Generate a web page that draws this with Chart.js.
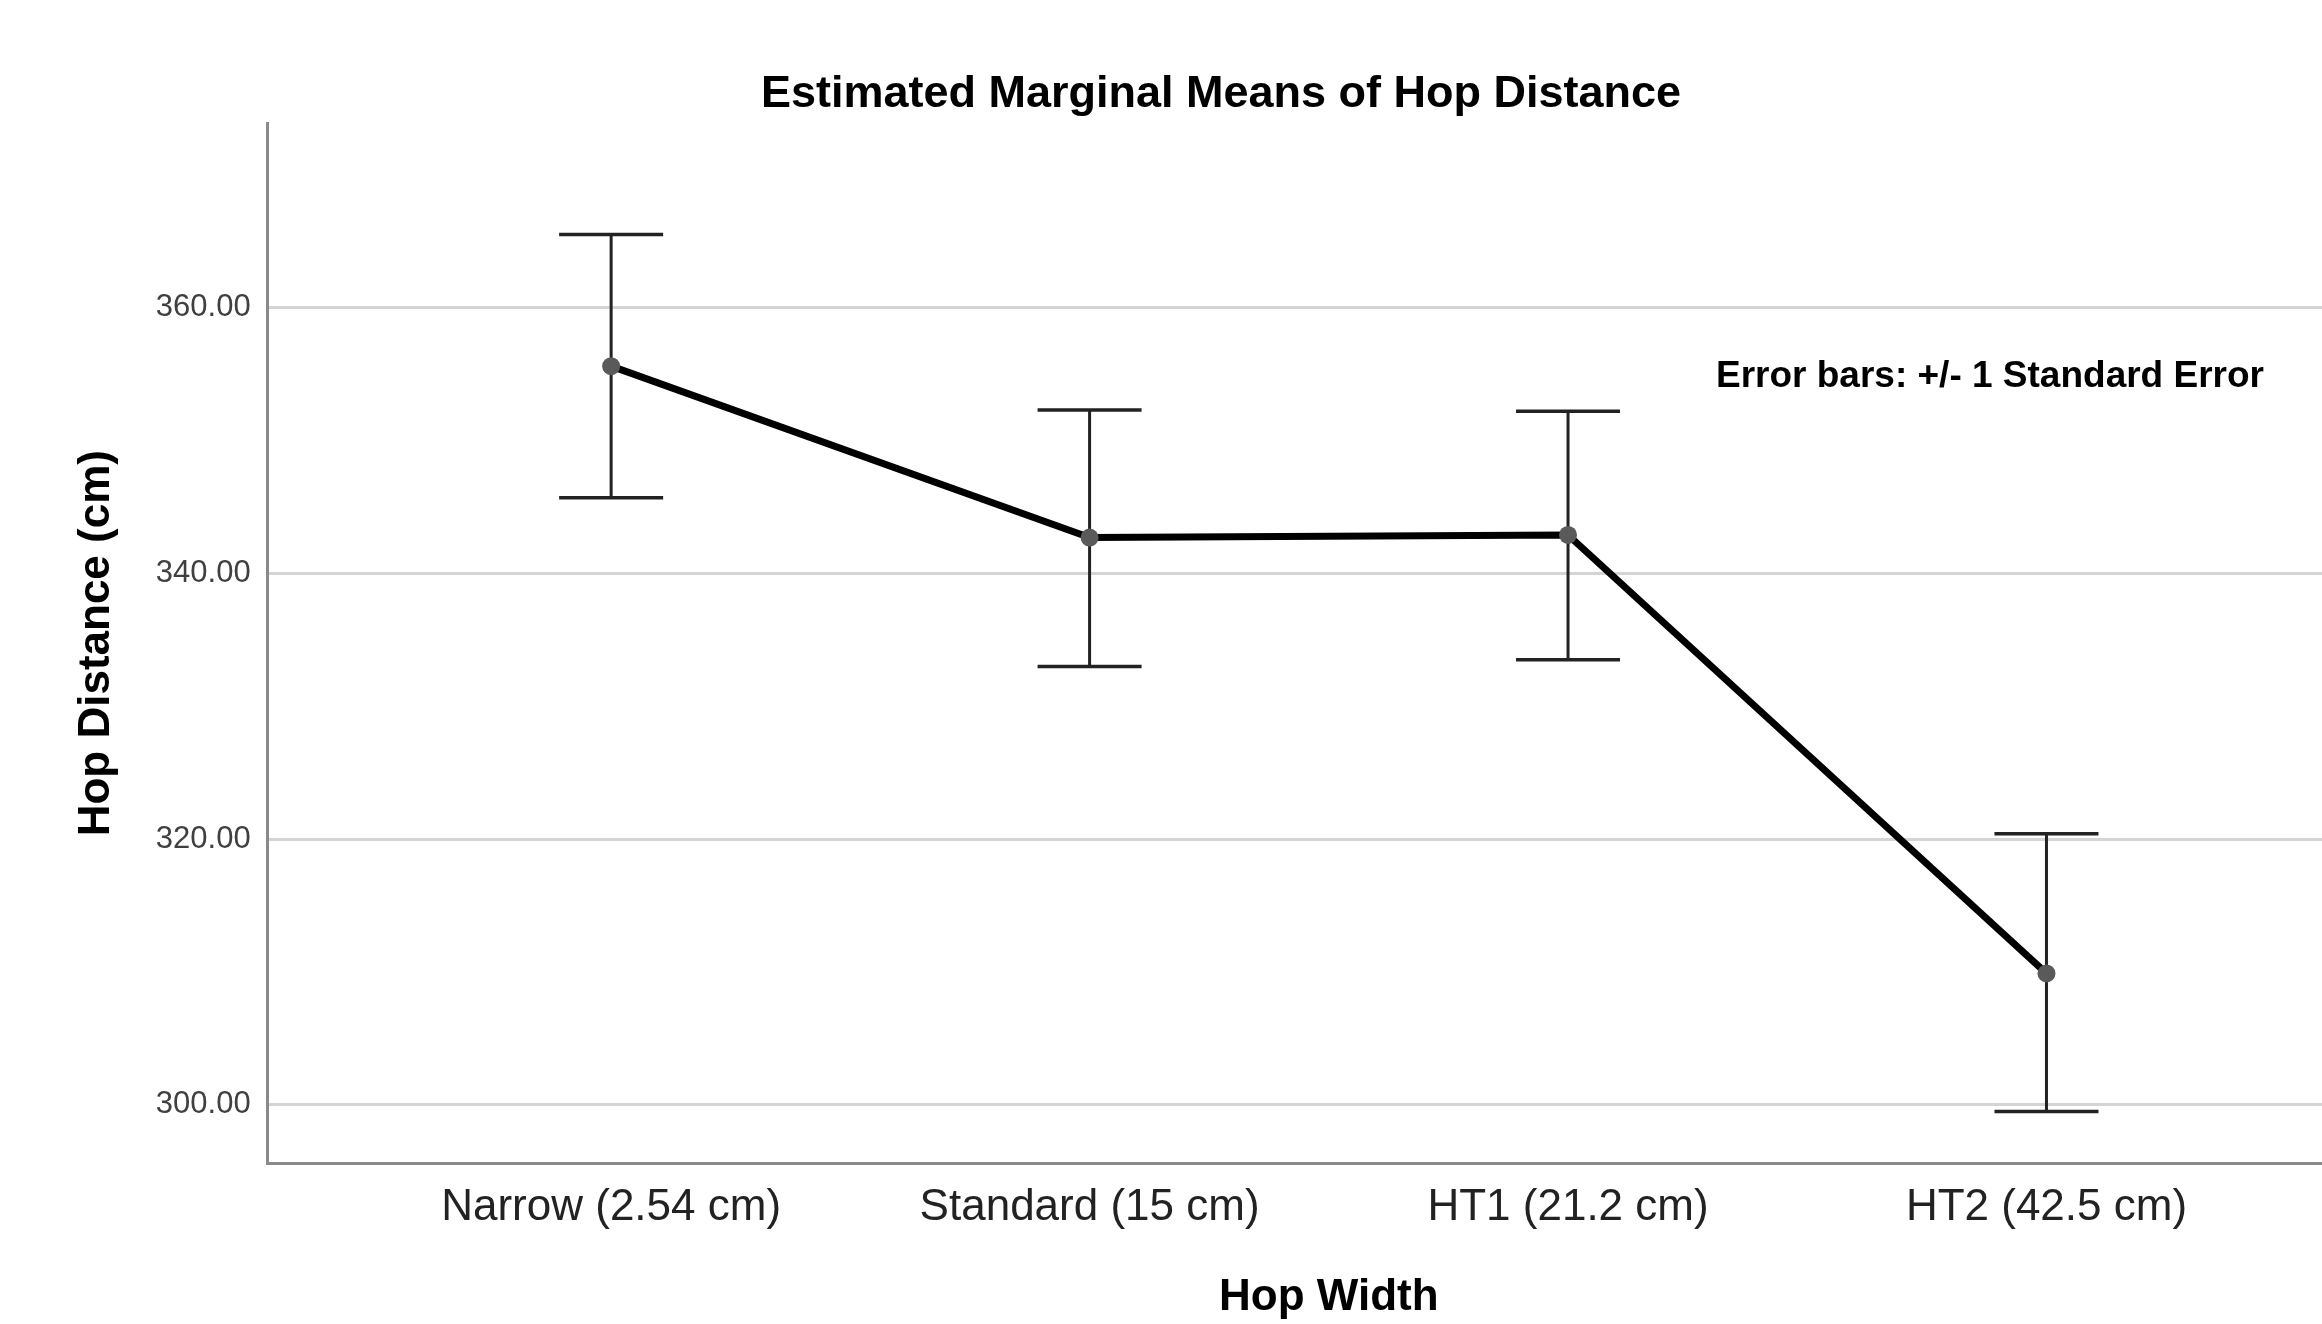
<!DOCTYPE html>
<html>
<head>
<meta charset="utf-8">
<script src="https://cdn.jsdelivr.net/npm/chart.js@4.4.1/dist/chart.umd.min.js"></script>
<style>
html, body { margin: 0; padding: 0; background: #fff; overflow: hidden; }
#wrap { width: 2399px; height: 1324px; }
</style>
</head>
<body>
<div id="wrap"><canvas id="emmChart" width="2399" height="1324"></canvas></div>
<script>
const categories = ['Narrow (2.54 cm)', 'Standard (15 cm)', 'HT1 (21.2 cm)', 'HT2 (42.5 cm)'];
const meanValues = [355.6, 342.7, 342.9, 309.9];
const upperValues = [365.5, 352.3, 352.2, 320.4];
const lowerValues = [345.7, 333.0, 333.5, 299.5];
const yTicks = [300, 320, 340, 360];

const fontFamily = "'Liberation Sans', Arial, sans-serif";
Chart.defaults.font.family = fontFamily;

// error bars go under the line and the dots
const errorBarPlugin = {
    id: 'errorBars',
    beforeDatasetsDraw(chart) {
        const ctx = chart.ctx;
        const x = chart.scales.x, y = chart.scales.y;
        ctx.save();
        ctx.strokeStyle = '#222';
        categories.forEach(function(c, i) {
            const px = x.getPixelForValue(i);
            const top = y.getPixelForValue(upperValues[i]);
            const bot = y.getPixelForValue(lowerValues[i]);
            ctx.lineWidth = 3;
            ctx.beginPath();
            ctx.moveTo(px, top);
            ctx.lineTo(px, bot);
            ctx.stroke();
            ctx.lineWidth = 3.5;
            ctx.beginPath();
            ctx.moveTo(px - 52, top); ctx.lineTo(px + 52, top);
            ctx.moveTo(px - 52, bot); ctx.lineTo(px + 52, bot);
            ctx.stroke();
        });
        ctx.restore();
    }
};

// chart title and the error bar note
const textPlugin = {
    id: 'chartTexts',
    afterDraw(chart) {
        const ctx = chart.ctx;
        ctx.save();
        ctx.fillStyle = '#000';
        ctx.textBaseline = 'alphabetic';
        ctx.font = "bold 45px " + fontFamily;
        ctx.textAlign = 'center';
        ctx.fillText('Estimated Marginal Means of Hop Distance', 1221, 107);
        ctx.font = "bold 37px " + fontFamily;
        ctx.textAlign = 'left';
        ctx.fillText('Error bars: +/- 1 Standard Error', 1716, 387);
        ctx.restore();
    }
};

const ctx = document.getElementById('emmChart').getContext('2d');
new Chart(ctx, {
    type: 'line',
    data: {
        datasets: [{
            data: meanValues.map(function(v, i) { return { x: i, y: v }; }),
            borderColor: '#000',
            borderWidth: 7,
            pointRadius: 9,
            pointBackgroundColor: '#5a5a5a',
            pointBorderWidth: 0,
            tension: 0
        }]
    },
    options: {
        responsive: false,
        animation: false,
        layout: { padding: { top: 123, left: 0, right: 0, bottom: 0 } },
        plugins: {
            legend: { display: false },
            tooltip: { enabled: false },
            title: { display: false }
        },
        scales: {
            x: {
                type: 'linear',
                min: -0.718,
                max: 3.718,
                afterBuildTicks: function(scale) {
                    scale.ticks = categories.map(function(c, i) { return { value: i }; });
                },
                grid: { display: false, drawTicks: false },
                border: { display: true, color: '#8a8a8a', width: 3 },
                ticks: {
                    autoSkip: false,
                    maxRotation: 0,
                    padding: 18,
                    color: '#222',
                    font: { size: 44 },
                    callback: function(value) { return categories[value]; }
                },
                title: {
                    display: true,
                    text: 'Hop Width',
                    color: '#000',
                    font: { size: 44, weight: 'bold' },
                    padding: { top: 19, bottom: 0 }
                }
            },
            y: {
                min: 295.6,
                max: 373.9,
                afterBuildTicks: function(scale) {
                    scale.ticks = yTicks.map(function(v) { return { value: v }; });
                },
                grid: { color: '#d4d4d4', lineWidth: 3, drawTicks: false },
                border: { display: true, color: '#8a8a8a', width: 3 },
                ticks: {
                    padding: 17,
                    color: '#404040',
                    font: { size: 31 },
                    callback: function(value) { return Number(value).toFixed(2); }
                },
                title: {
                    display: true,
                    text: 'Hop Distance (cm)',
                    color: '#000',
                    font: { size: 44, weight: 'bold' },
                    padding: { top: 70, bottom: 16 }
                }
            }
        }
    },
    plugins: [errorBarPlugin, textPlugin]
});
</script>
</body>
</html>
